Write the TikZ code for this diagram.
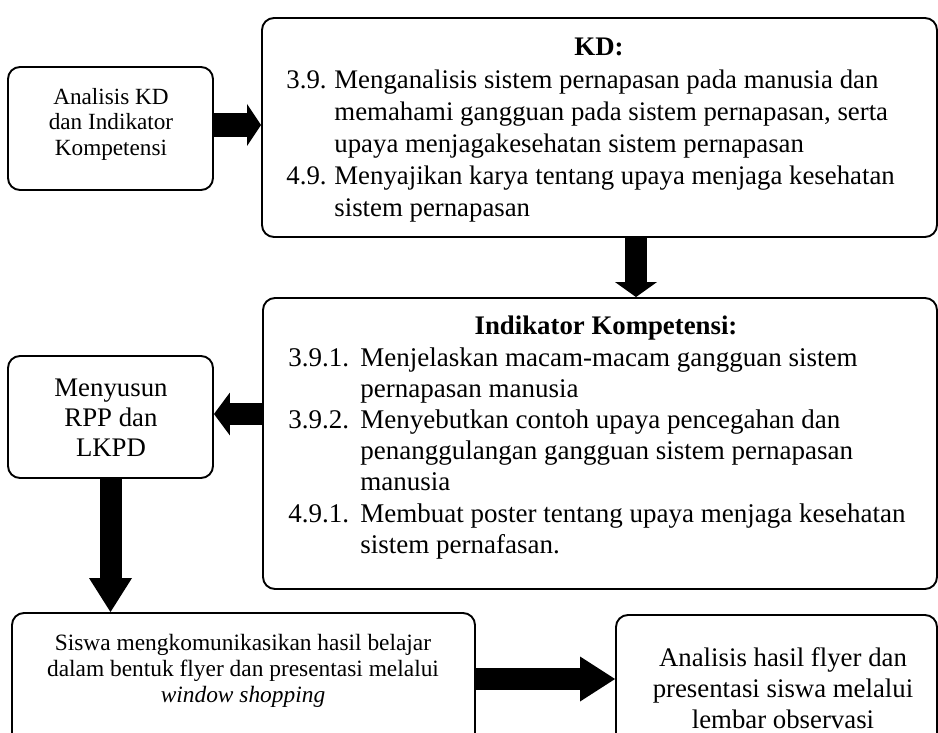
\documentclass[tikz,border=0pt]{standalone}
\usepackage{fontspec}
\setmainfont{Liberation Serif}
\usetikzlibrary{arrows.meta,calc}
\newcommand\txtbig{\fontsize{13.4}{15}\selectfont}
\newcommand\txtsmall{\fontsize{11.6}{12.75}\selectfont}
\tikzset{
  box/.style={draw, line width=0.95pt, rounded corners=6pt, inner sep=0pt},
  blk/.style n args={3}{line width=#1, -{Triangle[width=#2,length=#3,line width=0pt]}},
  lbl/.style={inner sep=0pt, align=center},
  tab/.style={inner sep=0pt, anchor=base west}
}
\begin{document}
\begin{tikzpicture}[x=0.5pt,y=-0.5pt]
\useasboundingbox (0,0) rectangle (938,733);
\clip (0,0) rectangle (938,733);
% boxes
\node[box, minimum width=102.5pt, minimum height=61.5pt] (a) at (110.5,128.5) {};
\node[box, minimum width=337.5pt, minimum height=109.5pt] (kd) at (599.5,127.5) {};
\node[box, minimum width=337pt, minimum height=145.5pt] (ik) at (600,443.5) {};
\node[box, minimum width=102.5pt, minimum height=61pt] (m) at (110.5,417) {};
\node[box, minimum width=231.5pt, minimum height=66pt] (s) at (243.5,679) {};
\node[box, minimum width=160.5pt, minimum height=65pt] (h) at (776.5,680) {};
% texts
\node[lbl, font=\txtsmall] (at) at (111,124) {Analisis KD\\dan Indikator\\Kompetensi};
\node[inner sep=0pt, anchor=base, font=\txtbig\bfseries] (kdt) at (599,56) {KD:};
\node[tab, font=\fontsize{13.4}{15.9}\selectfont] (kdl) at (286,89) {\begin{tabular}[t]{@{}p{24pt}@{}l@{}}
3.9. & Menganalisis sistem pernapasan pada manusia dan\\
 & memahami gangguan pada sistem pernapasan, serta\\
 & upaya menjagakesehatan sistem pernapasan\\
4.9. & Menyajikan karya tentang upaya menjaga kesehatan\\
 & sistem pernapasan
\end{tabular}};
\node[inner sep=0pt, anchor=base, font=\txtbig\bfseries] (ikt) at (606,334) {Indikator Kompetensi:};
\node[tab, font=\fontsize{13.5}{15.6}\selectfont] (ikl) at (288,366) {\begin{tabular}[t]{@{}p{36pt}@{}l@{}}
3.9.1. & Menjelaskan macam-macam gangguan sistem\\
 & pernapasan manusia\\
3.9.2. & Menyebutkan contoh upaya pencegahan dan\\
 & penanggulangan gangguan sistem pernapasan\\
 & manusia\\
4.9.1. & Membuat poster tentang upaya menjaga kesehatan\\
 & sistem pernafasan.
\end{tabular}};
\node[lbl, font=\fontsize{13.4}{15}\selectfont] (mt) at (111,418) {Menyusun\\RPP dan\\LKPD};
\node[lbl, font=\fontsize{11.7}{12.9}\selectfont] (st) at (243,671) {Siswa mengkomunikasikan hasil belajar\\dalam bentuk flyer dan presentasi melalui\\\textit{window shopping}};
\node[lbl, font=\fontsize{13.4}{15.5}\selectfont] (ht) at (783,688) {Analisis hasil flyer dan\\presentasi siswa melalui\\lembar observasi};
% arrows
\coordinate (a1) at ([yshift=1.75pt]a.east);
\draw[blk={12pt}{21pt}{7pt}] (a1) -- (a1 -| kd.west);
\coordinate (k1) at ([xshift=18.25pt]kd.south);
\draw[blk={11pt}{21pt}{7.5pt}] (k1) -- (k1 |- ik.north);
\coordinate (i1) at ([yshift=1.5pt]m.east -| ik.west);
\draw[blk={11pt}{21.5pt}{8pt}] (i1) -- (i1 -| m.east);
\draw[blk={11pt}{21.5pt}{17pt}] (m.south) -- (m.south |- s.north);
\draw[blk={11pt}{22.5pt}{17.5pt}] (s.east) -- (s.east -| h.west);
\end{tikzpicture}
\end{document}
